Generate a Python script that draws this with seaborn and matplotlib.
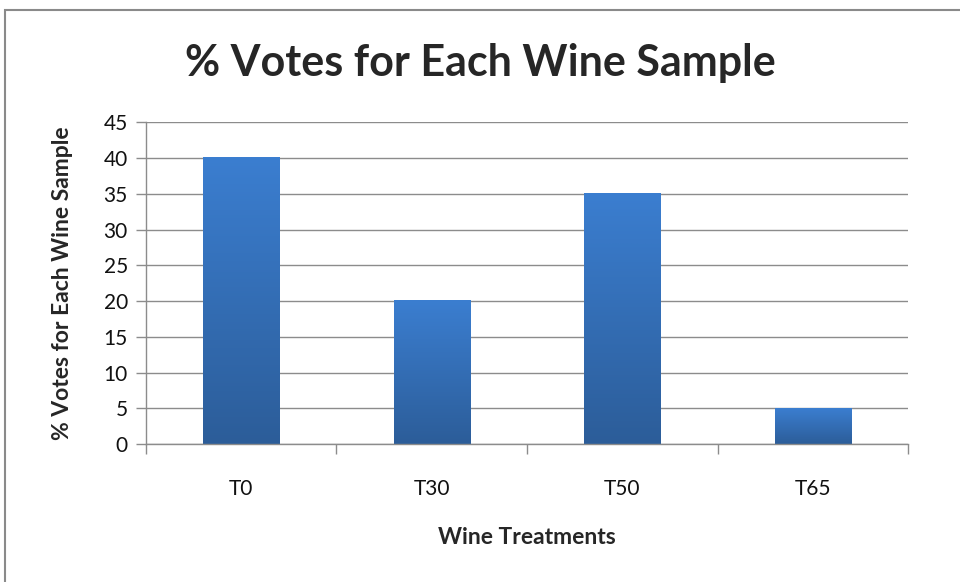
import matplotlib
matplotlib.use("Agg")
import matplotlib.pyplot as plt
import matplotlib.patches as mpatches
import matplotlib.ticker as ticker
from matplotlib.colors import LinearSegmentedColormap
import numpy as np
import pandas as pd
import seaborn as sns

# chart data
treatments = ["T0", "T30", "T50", "T65"]
votes_pct = [40, 20, 35, 5]
y_ticks = [0, 5, 10, 15, 20, 25, 30, 35, 40, 45]

sns.set_style("white")
plt.rcParams['font.family'] = ['Lato', 'DejaVu Sans']

df = pd.DataFrame({'Treatment': treatments, 'Votes': votes_pct})

fig = plt.figure(figsize=(9.6, 5.82), dpi=100, facecolor='w')
ax = fig.add_axes([0.152, 0.237, 0.794, 0.553])

sns.barplot(data=df, x='Treatment', y='Votes', color='#3474c0', width=0.4,
            saturation=1, ax=ax, zorder=3)

# vertical gradient on every bar, like the old office charts
grad = LinearSegmentedColormap.from_list('bar_grad', ['#2c5d99', '#3b7ed0'])
for p in ax.patches:
    x0, y0 = p.get_x(), p.get_y()
    w, h = p.get_width(), p.get_height()
    img = np.linspace(0, 1, 256).reshape(-1, 1)
    ax.imshow(img, cmap=grad, aspect='auto', origin='lower',
              extent=(x0, x0 + w, y0, y0 + h), zorder=4)
    p.set_visible(False)

ax.set_xlim(-0.5, len(treatments) - 0.5)
ax.set_ylim(0, 45)
ax.set_yticks(y_ticks)
ax.grid(axis='y', color='#8c8c8c', linewidth=1, zorder=0)
ax.set_axisbelow(True)

# category ticks sit on the boundaries
ax.xaxis.set_minor_locator(ticker.FixedLocator(np.arange(-0.5, len(treatments), 1.0)))
ax.tick_params(axis='x', which='major', length=0, pad=25, labelsize=15, labelcolor='#111111')
ax.tick_params(axis='x', which='minor', length=7, width=1, color='#8c8c8c', direction='out', bottom=True)
ax.tick_params(axis='y', length=7, width=1, color='#8c8c8c', direction='out', left=True,
               labelsize=15, pad=6, labelcolor='#111111')

for s in ['top', 'right']:
    ax.spines[s].set_visible(False)
for s in ['left', 'bottom']:
    ax.spines[s].set_color('#8c8c8c')
    ax.spines[s].set_linewidth(1)
    ax.spines[s].set_zorder(5)

ax.set_xlabel("Wine Treatments", fontsize=16.5, fontweight='bold', labelpad=20)
ax.set_ylabel("% Votes for Each Wine Sample", fontsize=16.5, fontweight='bold', labelpad=22)
fig.suptitle("% Votes for Each Wine Sample", fontsize=31, fontweight='bold',
             x=0.5, y=1 - 63 / 582, va='center')

# chart border
fig.patches.append(mpatches.Rectangle((5 / 960, -0.2), 1.2, 1.2 - 10 / 582,
                                      transform=fig.transFigure, fill=False,
                                      edgecolor='#8a8a8a', linewidth=1.5))

plt.savefig('out.png', dpi=100, facecolor='w')
plt.close(fig)
